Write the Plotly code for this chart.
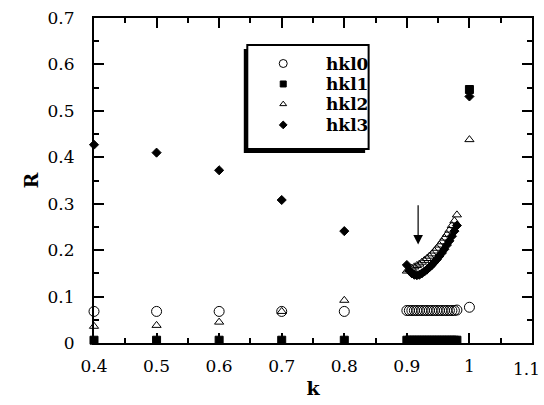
import plotly.graph_objects as go

# Coarse scan in k
k_coarse = [0.4, 0.5, 0.6, 0.7, 0.8]
hkl0_coarse = [0.068, 0.068, 0.068, 0.068, 0.068]
hkl1_coarse = [0.006, 0.006, 0.006, 0.006, 0.006]
hkl2_coarse = [0.036, 0.038, 0.045, 0.068, 0.092]
hkl3_coarse = [0.427, 0.410, 0.372, 0.308, 0.241]

# Fine scan close to k = 1
k_fine = [0.900, 0.904, 0.908, 0.912, 0.916, 0.920, 0.924, 0.928, 0.932, 0.936,
          0.940, 0.944, 0.948, 0.952, 0.956, 0.960, 0.964, 0.968, 0.972, 0.976, 0.980]
hkl0_fine = [0.070, 0.070, 0.070, 0.070, 0.070, 0.070, 0.070, 0.070, 0.070, 0.070,
             0.070, 0.070, 0.070, 0.070, 0.070, 0.070, 0.070, 0.070, 0.070, 0.070, 0.071]
hkl1_fine = [0.006, 0.006, 0.006, 0.006, 0.006, 0.006, 0.006, 0.006, 0.006, 0.006,
             0.006, 0.006, 0.006, 0.006, 0.006, 0.006, 0.006, 0.006, 0.006, 0.006, 0.006]
hkl2_fine = [0.155, 0.158, 0.161, 0.164, 0.167, 0.170, 0.174, 0.178, 0.182, 0.187,
             0.192, 0.198, 0.204, 0.211, 0.218, 0.226, 0.234, 0.243, 0.253, 0.263, 0.276]
hkl3_fine = [0.168, 0.156, 0.150, 0.147, 0.146, 0.147, 0.150, 0.154, 0.158, 0.163,
             0.168, 0.174, 0.180, 0.187, 0.194, 0.202, 0.211, 0.220, 0.230, 0.241, 0.253]

# End point k = 1
k_end = [1.0]
hkl0_end = [0.077]
hkl1_end = [0.546]
hkl2_end = [0.438]
hkl3_end = [0.531]

series_names = ["hkl0", "hkl1", "hkl2", "hkl3"]
symbols = ["circle-open", "square", "triangle-up-open", "diamond"]
sizes = [10, 8, 8, 7]

x_ticks = [0.4, 0.5, 0.6, 0.7, 0.8, 0.9, 1.0, 1.1]
x_tick_text = ["0.4", "0.5", "0.6", "0.7", "0.8", "0.9", "1", "1.1"]
y_ticks = [0, 0.1, 0.2, 0.3, 0.4, 0.5, 0.6, 0.7]
y_tick_text = ["0", "0.1", "0.2", "0.3", "0.4", "0.5", "0.6", "0.7"]

k_all = k_coarse + k_fine + k_end
values = [
    hkl0_coarse + hkl0_fine + hkl0_end,
    hkl1_coarse + hkl1_fine + hkl1_end,
    hkl2_coarse + hkl2_fine + hkl2_end,
    hkl3_coarse + hkl3_fine + hkl3_end,
]

SERIF = "DejaVu Serif"
TICK_FONT = dict(family=SERIF, size=17, color="black")

fig = go.Figure()
for name, sym, sz, vals in zip(series_names, symbols, sizes, values):
    fig.add_trace(go.Scatter(
        x=k_all, y=vals, mode="markers", name=name, cliponaxis=False,
        marker=dict(symbol=sym, size=sz, color="black",
                    line=dict(width=1, color="black")),
        showlegend=False,
    ))

# Hand-built legend on an overlay axis spanning the plot area in [0, 1]
leg_x0, leg_x1, leg_y0, leg_y1 = 0.350, 0.627, 0.597, 0.917
leg_marker_x = 0.432
leg_text_x = 0.524
leg_rows = [0.860, 0.797, 0.735, 0.671]
for name, sym, sz, yy in zip(series_names, symbols, sizes, leg_rows):
    fig.add_trace(go.Scatter(
        x=[leg_marker_x], y=[yy], mode="markers", xaxis="x2", yaxis="y2",
        marker=dict(symbol=sym, size=max(sz - 2, 6), color="black",
                    line=dict(width=1, color="black")),
        showlegend=False, hoverinfo="skip",
    ))
    fig.add_annotation(x=leg_text_x, y=yy, xref="paper", yref="paper",
                       text=f"<b>{name}</b>", showarrow=False, xanchor="left",
                       yanchor="middle", font=dict(family=SERIF, size=17, color="black"))

# legend shadow and frame
fig.add_shape(type="rect", xref="paper", yref="paper",
              x0=leg_x0 - 0.008, x1=leg_x1 - 0.008, y0=leg_y0 - 0.012, y1=leg_y1 - 0.012,
              fillcolor="black", line=dict(width=0), layer="below")
fig.add_shape(type="rect", xref="paper", yref="paper",
              x0=leg_x0, x1=leg_x1, y0=leg_y0, y1=leg_y1,
              fillcolor="white", line=dict(width=2, color="black"), layer="below")

# Arrow pointing to the minimum of the hkl3 curve
fig.add_annotation(x=0.918, y=0.212, ax=0.918, ay=0.300, xref="x", yref="y",
                   axref="x", ayref="y", showarrow=True, arrowhead=2,
                   arrowsize=1.6, arrowwidth=1.2, arrowcolor="black", text="")

# The last x tick label sits against the page edge, so it is placed as an annotation
fig.add_annotation(x=x_ticks[-1], y=0, xref="x", yref="paper", yshift=-14, xshift=10,
                   text=x_tick_text[-1], showarrow=False, xanchor="right",
                   yanchor="top", font=TICK_FONT)
x_tick_text_axis = x_tick_text[:-1] + [""]

axis_common = dict(
    showgrid=False, zeroline=False, showline=True, linecolor="black", linewidth=2,
    mirror="ticks", ticks="inside", ticklen=10, tickwidth=1.5, tickcolor="black",
    tickfont=TICK_FONT, automargin=False,
)
minor_common = dict(dtick=0.05, ticks="inside", ticklen=5, tickwidth=1.5, tickcolor="black")

fig.update_layout(
    width=544, height=405,
    margin=dict(l=94, r=12, t=18, b=62),
    plot_bgcolor="white", paper_bgcolor="white",
    xaxis=dict(range=[0.4, 1.1], ticklabelstandoff=7, minor=minor_common,
               tickvals=x_ticks, ticktext=x_tick_text_axis,
               title=dict(text="<b>k</b>", font=dict(family=SERIF, size=19, color="black"), standoff=6),
               **axis_common),
    yaxis=dict(range=[0, 0.7], ticklabelstandoff=14, minor=minor_common,
               tickvals=y_ticks, ticktext=y_tick_text,
               title=dict(text="<b>R</b>", font=dict(family=SERIF, size=19, color="black"), standoff=4),
               **axis_common),
    xaxis2=dict(range=[0, 1], overlaying="x", visible=False, fixedrange=True),
    yaxis2=dict(range=[0, 1], overlaying="y", visible=False, fixedrange=True),
)

fig.write_html("out.html")
